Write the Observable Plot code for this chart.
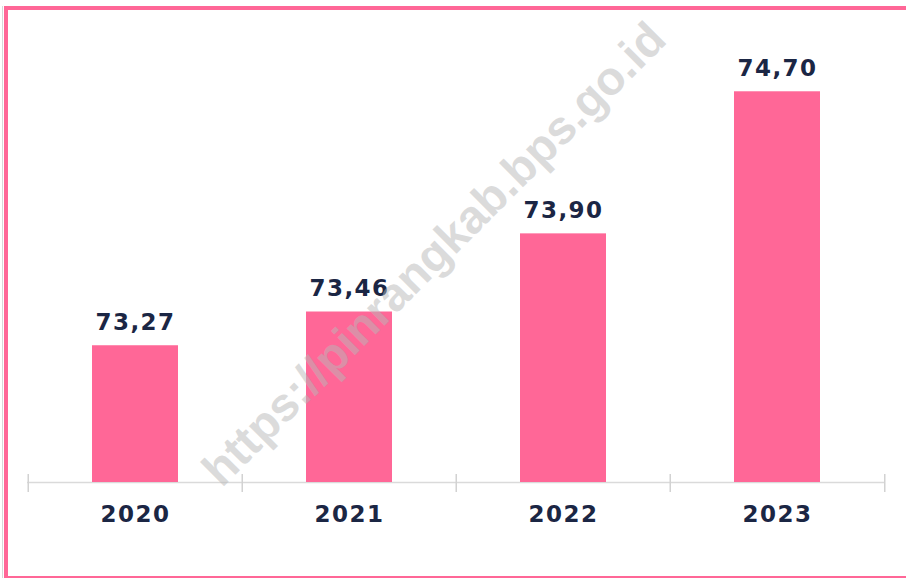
<!DOCTYPE html>
<html>
<head>
<meta charset="utf-8">
<script src="https://cdn.jsdelivr.net/npm/d3@7"></script>
<script src="https://cdn.jsdelivr.net/npm/@observablehq/plot@0.6"></script>
<style>
  html, body { margin: 0; padding: 0; background: #fff; }
  #wrap { position: relative; width: 906px; height: 578px; overflow: hidden; }
  #wrap svg { position: absolute; left: 0; top: 0; }
  #wrap svg text.lbl, #wrap svg g.lbl text { letter-spacing: 1.5px; }
  .fr { position: absolute; background: #ff6797; }
</style>
</head>
<body>
<div id="wrap">
  <div class="fr" style="left:4px;top:6px;width:902px;height:4px"></div>
  <div class="fr" style="left:4px;top:6px;width:4px;height:572px"></div>
  <div class="fr" style="left:4px;top:576px;width:902px;height:1.5px"></div>
  <div style="position:absolute;left:2px;top:6px;width:1px;height:572px;background:#d8d8d8"></div>
</div>
<script>
const years = ["2020", "2021", "2022", "2023"];
const values = [73.27, 73.46, 73.90, 74.70];
const yDomain = [72.5, 75.0];
const watermark = "https://pinrangkab.bps.go.id";

const data = years.map((y, i) => ({year: y, value: values[i]}));
const fmt = v => v.toFixed(2).replace(".", ",");

const W = 906, H = 578, mL = 27, mR = 21, mT = 38, mB = 96;
const band = (W - mL - mR) / years.length;
const pink = "#ff6797";
const navy = "#1b2644";
const font = "DejaVu Sans, Verdana, sans-serif";

const chart = Plot.plot({
  width: W,
  height: H,
  marginLeft: mL,
  marginRight: mR,
  marginTop: mT,
  marginBottom: mB,
  style: {background: "transparent", fontFamily: font},
  x: {domain: years, paddingInner: 0.6, paddingOuter: 0.3, axis: null},
  y: {domain: yDomain, axis: null},
  marks: [
    Plot.ruleY([yDomain[0]], {stroke: "#dadada", strokeWidth: 1.5}),
    Plot.ruleX(years, {x: d => d, y1: yDomain[0], y2: yDomain[0], dx: -band / 2, insetTop: 10, insetBottom: 8, stroke: "#d2d2d2", strokeWidth: 1.5}),
    Plot.ruleX(years.slice(-1), {x: d => d, y1: yDomain[0], y2: yDomain[0], dx: band / 2, insetTop: 10, insetBottom: 8, stroke: "#d2d2d2", strokeWidth: 1.5}),
    Plot.barY(data, {x: "year", y1: yDomain[0], y2: "value", fill: pink}),
    Plot.text(data, {x: "year", y: "value", text: d => fmt(d.value), dy: -23, fontSize: 23, fontWeight: "bold", fill: navy, className: "lbl"}),
    Plot.text(years, {x: d => d, frameAnchor: "bottom", lineAnchor: "middle", dy: 32, text: d => d, fontSize: 23, fontWeight: "bold", fill: navy, className: "lbl"}),
    Plot.text([watermark], {frameAnchor: "middle", dx: -22, dy: -6, rotate: -45, text: d => d, fontSize: 47, fontWeight: "bold", fontFamily: "Liberation Sans, Arial, sans-serif", fill: "#b8b8b8", fillOpacity: 0.5})
  ]
});
document.getElementById("wrap").insertBefore(chart, document.getElementById("wrap").firstChild);
</script>
</body>
</html>
